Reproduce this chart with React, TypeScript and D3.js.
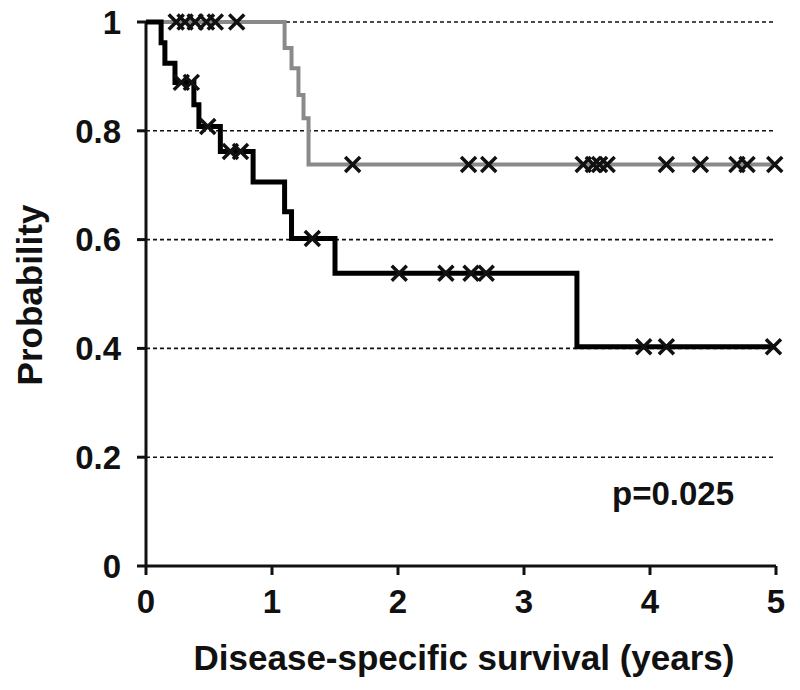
import React from "react";
import * as d3 from "d3";

const W = 800, H = 690;
const xTicks = [0, 1, 2, 3, 4, 5];
const yTicks = [0, 0.2, 0.4, 0.6, 0.8, 1];
const yTickLabels = ["0", "0.2", "0.4", "0.6", "0.8", "1"];
const gridValues = [0.2, 0.4, 0.6, 0.8, 1];

// Black group (KM steps): time, survival
const blackTimes = [0, 0.12, 0.15, 0.23, 0.38, 0.42, 0.59, 0.85, 1.1, 1.155, 1.5, 3.42, 5];
const blackSurv = [1, 0.962, 0.924, 0.889, 0.848, 0.808, 0.762, 0.706, 0.651, 0.602, 0.538, 0.403, 0.403];
const blackCensorT = [0.28, 0.36, 0.49, 0.67, 0.75, 1.32, 2.01, 2.38, 2.58, 2.7, 3.95, 4.13, 4.98];

// Gray group
const grayTimes = [0, 1.1, 1.155, 1.21, 1.25, 1.29, 5];
const graySurv = [1, 0.952, 0.915, 0.866, 0.823, 0.738, 0.738];
const grayCensorT = [0.24, 0.31, 0.39, 0.48, 0.55, 0.72, 1.64, 2.56, 2.72, 3.47, 3.55, 3.6, 3.66, 4.13, 4.4, 4.69, 4.77, 4.99];

const x = d3.scaleLinear().domain([0, 5]).range([146, 776]);
const y = d3.scaleLinear().domain([0, 1]).range([566, 22]);

function survAt(times: number[], surv: number[], t: number) {
  let s = surv[0];
  for (let i = 0; i < times.length; i++) if (times[i] <= t) s = surv[i];
  return s;
}

const line = d3.line<[number, number]>().x(d => x(d[0])).y(d => y(d[1])).curve(d3.curveStepAfter);

function Cross({ cx, cy }: { cx: number; cy: number }) {
  const r = 7.5;
  return (
    <path d={`M${cx - r},${cy - r}L${cx + r},${cy + r}M${cx - r},${cy + r}L${cx + r},${cy - r}`} stroke="#111" strokeWidth={3.5} fill="none" />
  );
}

export default function App() {
  const blackData = blackTimes.map((t, i) => [t, blackSurv[i]] as [number, number]);
  const grayData = grayTimes.map((t, i) => [t, graySurv[i]] as [number, number]);
  const font = "'Liberation Sans', Arial, sans-serif";
  return (
    <svg width={W} height={H} style={{ position: "absolute", left: 0, top: 0, background: "#fff" }} fontFamily={font}>
      {gridValues.map(v => (
        <line key={v} x1={x(0)} x2={x(5)} y1={y(v)} y2={y(v)} stroke="#111" strokeWidth={1.6} strokeDasharray="4,3" />
      ))}
      {/* axes */}
      <line x1={x(0)} x2={x(5)} y1={y(0)} y2={y(0)} stroke="#111" strokeWidth={3} />
      <line x1={x(0)} x2={x(0)} y1={y(0)} y2={y(1)} stroke="#111" strokeWidth={3} />
      {yTicks.map((v, i) => (
        <g key={v}>
          <line x1={x(0) - 9} x2={x(0)} y1={y(v)} y2={y(v)} stroke="#111" strokeWidth={3} />
          <text x={121} y={y(v)} dy="0.36em" textAnchor="end" fontSize={33} fontWeight="bold" fill="#111">{yTickLabels[i]}</text>
        </g>
      ))}
      {xTicks.map(v => (
        <g key={v}>
          <line x1={x(v)} x2={x(v)} y1={y(0)} y2={y(0) + 9} stroke="#111" strokeWidth={3} />
          <text x={x(v)} y={601} dy="0.36em" textAnchor="middle" fontSize={33} fontWeight="bold" fill="#111">{v}</text>
        </g>
      ))}
      <text x={464} y={670} textAnchor="middle" fontSize={35} fontWeight="bold" fill="#111">Disease-specific survival (years)</text>
      <text transform={`translate(29,295) rotate(-90)`} textAnchor="middle" dy="0.36em" fontSize={35} fontWeight="bold" fill="#111">Probability</text>
      <text x={673} y={505} textAnchor="middle" fontSize={33} fontWeight="bold" fill="#111">p=0.025</text>
      {/* curves */}
      <path d={line(grayData) || ""} stroke="#8a8a8a" strokeWidth={4} fill="none" />
      <path d={line(blackData) || ""} stroke="#000" strokeWidth={5} fill="none" />
      {grayCensorT.map((t, i) => (
        <Cross key={"g" + i} cx={x(t)} cy={y(survAt(grayTimes, graySurv, t))} />
      ))}
      {blackCensorT.map((t, i) => (
        <Cross key={"b" + i} cx={x(t)} cy={y(survAt(blackTimes, blackSurv, t))} />
      ))}
    </svg>
  );
}
